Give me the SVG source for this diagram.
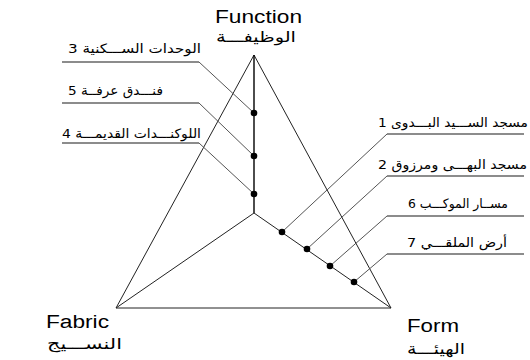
<svg xmlns="http://www.w3.org/2000/svg" width="530" height="360" viewBox="0 0 530 360">
<style>
.en{font-family:"Liberation Sans",Arial,sans-serif;font-size:18px;fill:#000}
.ar{font-family:"DejaVu Sans","Liberation Sans",sans-serif;font-size:13px;fill:#000}
.tt{font-size:15px}
.tri{stroke:#222;stroke-width:1;fill:none}
.axis{stroke:#000;stroke-width:1.4;fill:none}
.lead{stroke:#555;stroke-width:1;fill:none}
.shelf{stroke:#666;stroke-width:1.4;fill:none}
.dot{fill:#000}
</style>
<rect width="530" height="360" fill="#fff"/>
<g id="connectors">
  <polygon class="tri" points="254,55 116,308 391,308"/>
  <line class="axis" x1="254" y1="55" x2="254" y2="213"/>
  <line class="tri" x1="254" y1="213" x2="116" y2="308"/>
  <line class="tri" x1="254" y1="213" x2="391" y2="308"/>
  <polyline class="shelf" points="62,62 199,62"/>
  <polyline class="lead" points="199,62 254,113"/>
  <polyline class="shelf" points="62,103 199,103"/>
  <polyline class="lead" points="199,103 254,156"/>
  <polyline class="shelf" points="62,143 199,143"/>
  <polyline class="lead" points="199,143 254,194"/>
  <polyline class="shelf" points="387,134 524,134"/>
  <polyline class="lead" points="387,134 282,232"/>
  <polyline class="shelf" points="387,176 524,176"/>
  <polyline class="lead" points="387,176 307,249"/>
  <polyline class="shelf" points="387,216 524,216"/>
  <polyline class="lead" points="387,216 330,266"/>
  <polyline class="shelf" points="387,254 524,254"/>
  <polyline class="lead" points="387,254 354,282"/>
</g>
<g id="function">
  <text class="en" x="215" y="23" textLength="87" lengthAdjust="spacingAndGlyphs">Function</text>
  <text class="ar tt" x="296" y="42" direction="rtl" textLength="80" lengthAdjust="spacingAndGlyphs">الوظيفـــة</text>
</g>
<g id="fabric">
  <text class="en" x="46" y="328" textLength="63" lengthAdjust="spacingAndGlyphs">Fabric</text>
  <text class="ar tt" x="122" y="349" direction="rtl" textLength="75" lengthAdjust="spacingAndGlyphs">النســـيج</text>
</g>
<g id="form">
  <text class="en" x="407" y="332" textLength="52" lengthAdjust="spacingAndGlyphs">Form</text>
  <text class="ar tt" x="465" y="354" direction="rtl" textLength="58" lengthAdjust="spacingAndGlyphs">الهيئـــة</text>
</g>
<g id="item3">
  <text class="ar" x="201" y="53" direction="rtl" textLength="133" lengthAdjust="spacingAndGlyphs">الوحدات الســـكنية 3</text>
  <circle class="dot" cx="254" cy="113" r="3.3"/>
</g>
<g id="item5">
  <text class="ar" x="163" y="95" direction="rtl" textLength="95" lengthAdjust="spacingAndGlyphs">فنـــدق عرفــة 5</text>
  <circle class="dot" cx="254" cy="156" r="3.3"/>
</g>
<g id="item4">
  <text class="ar" x="201" y="138" direction="rtl" textLength="139" lengthAdjust="spacingAndGlyphs">اللوكنـــدات القديمـــة 4</text>
  <circle class="dot" cx="254" cy="194" r="3.3"/>
</g>
<g id="item1">
  <text class="ar" x="528" y="127" direction="rtl" textLength="150" lengthAdjust="spacingAndGlyphs">مسجد الســـيد البـــدوى 1</text>
  <circle class="dot" cx="282" cy="232" r="3.3"/>
</g>
<g id="item2">
  <text class="ar" x="527" y="169" direction="rtl" textLength="149" lengthAdjust="spacingAndGlyphs">مسجد البهـــى ومرزوق 2</text>
  <circle class="dot" cx="307" cy="249" r="3.3"/>
</g>
<g id="item6">
  <text class="ar" x="508" y="208" direction="rtl" textLength="100" lengthAdjust="spacingAndGlyphs">مســار الموكـــب 6</text>
  <circle class="dot" cx="330" cy="266" r="3.3"/>
</g>
<g id="item7">
  <text class="ar" x="507" y="247" direction="rtl" textLength="100" lengthAdjust="spacingAndGlyphs">أرض الملقـــي 7</text>
  <circle class="dot" cx="354" cy="282" r="3.3"/>
</g>
</svg>
